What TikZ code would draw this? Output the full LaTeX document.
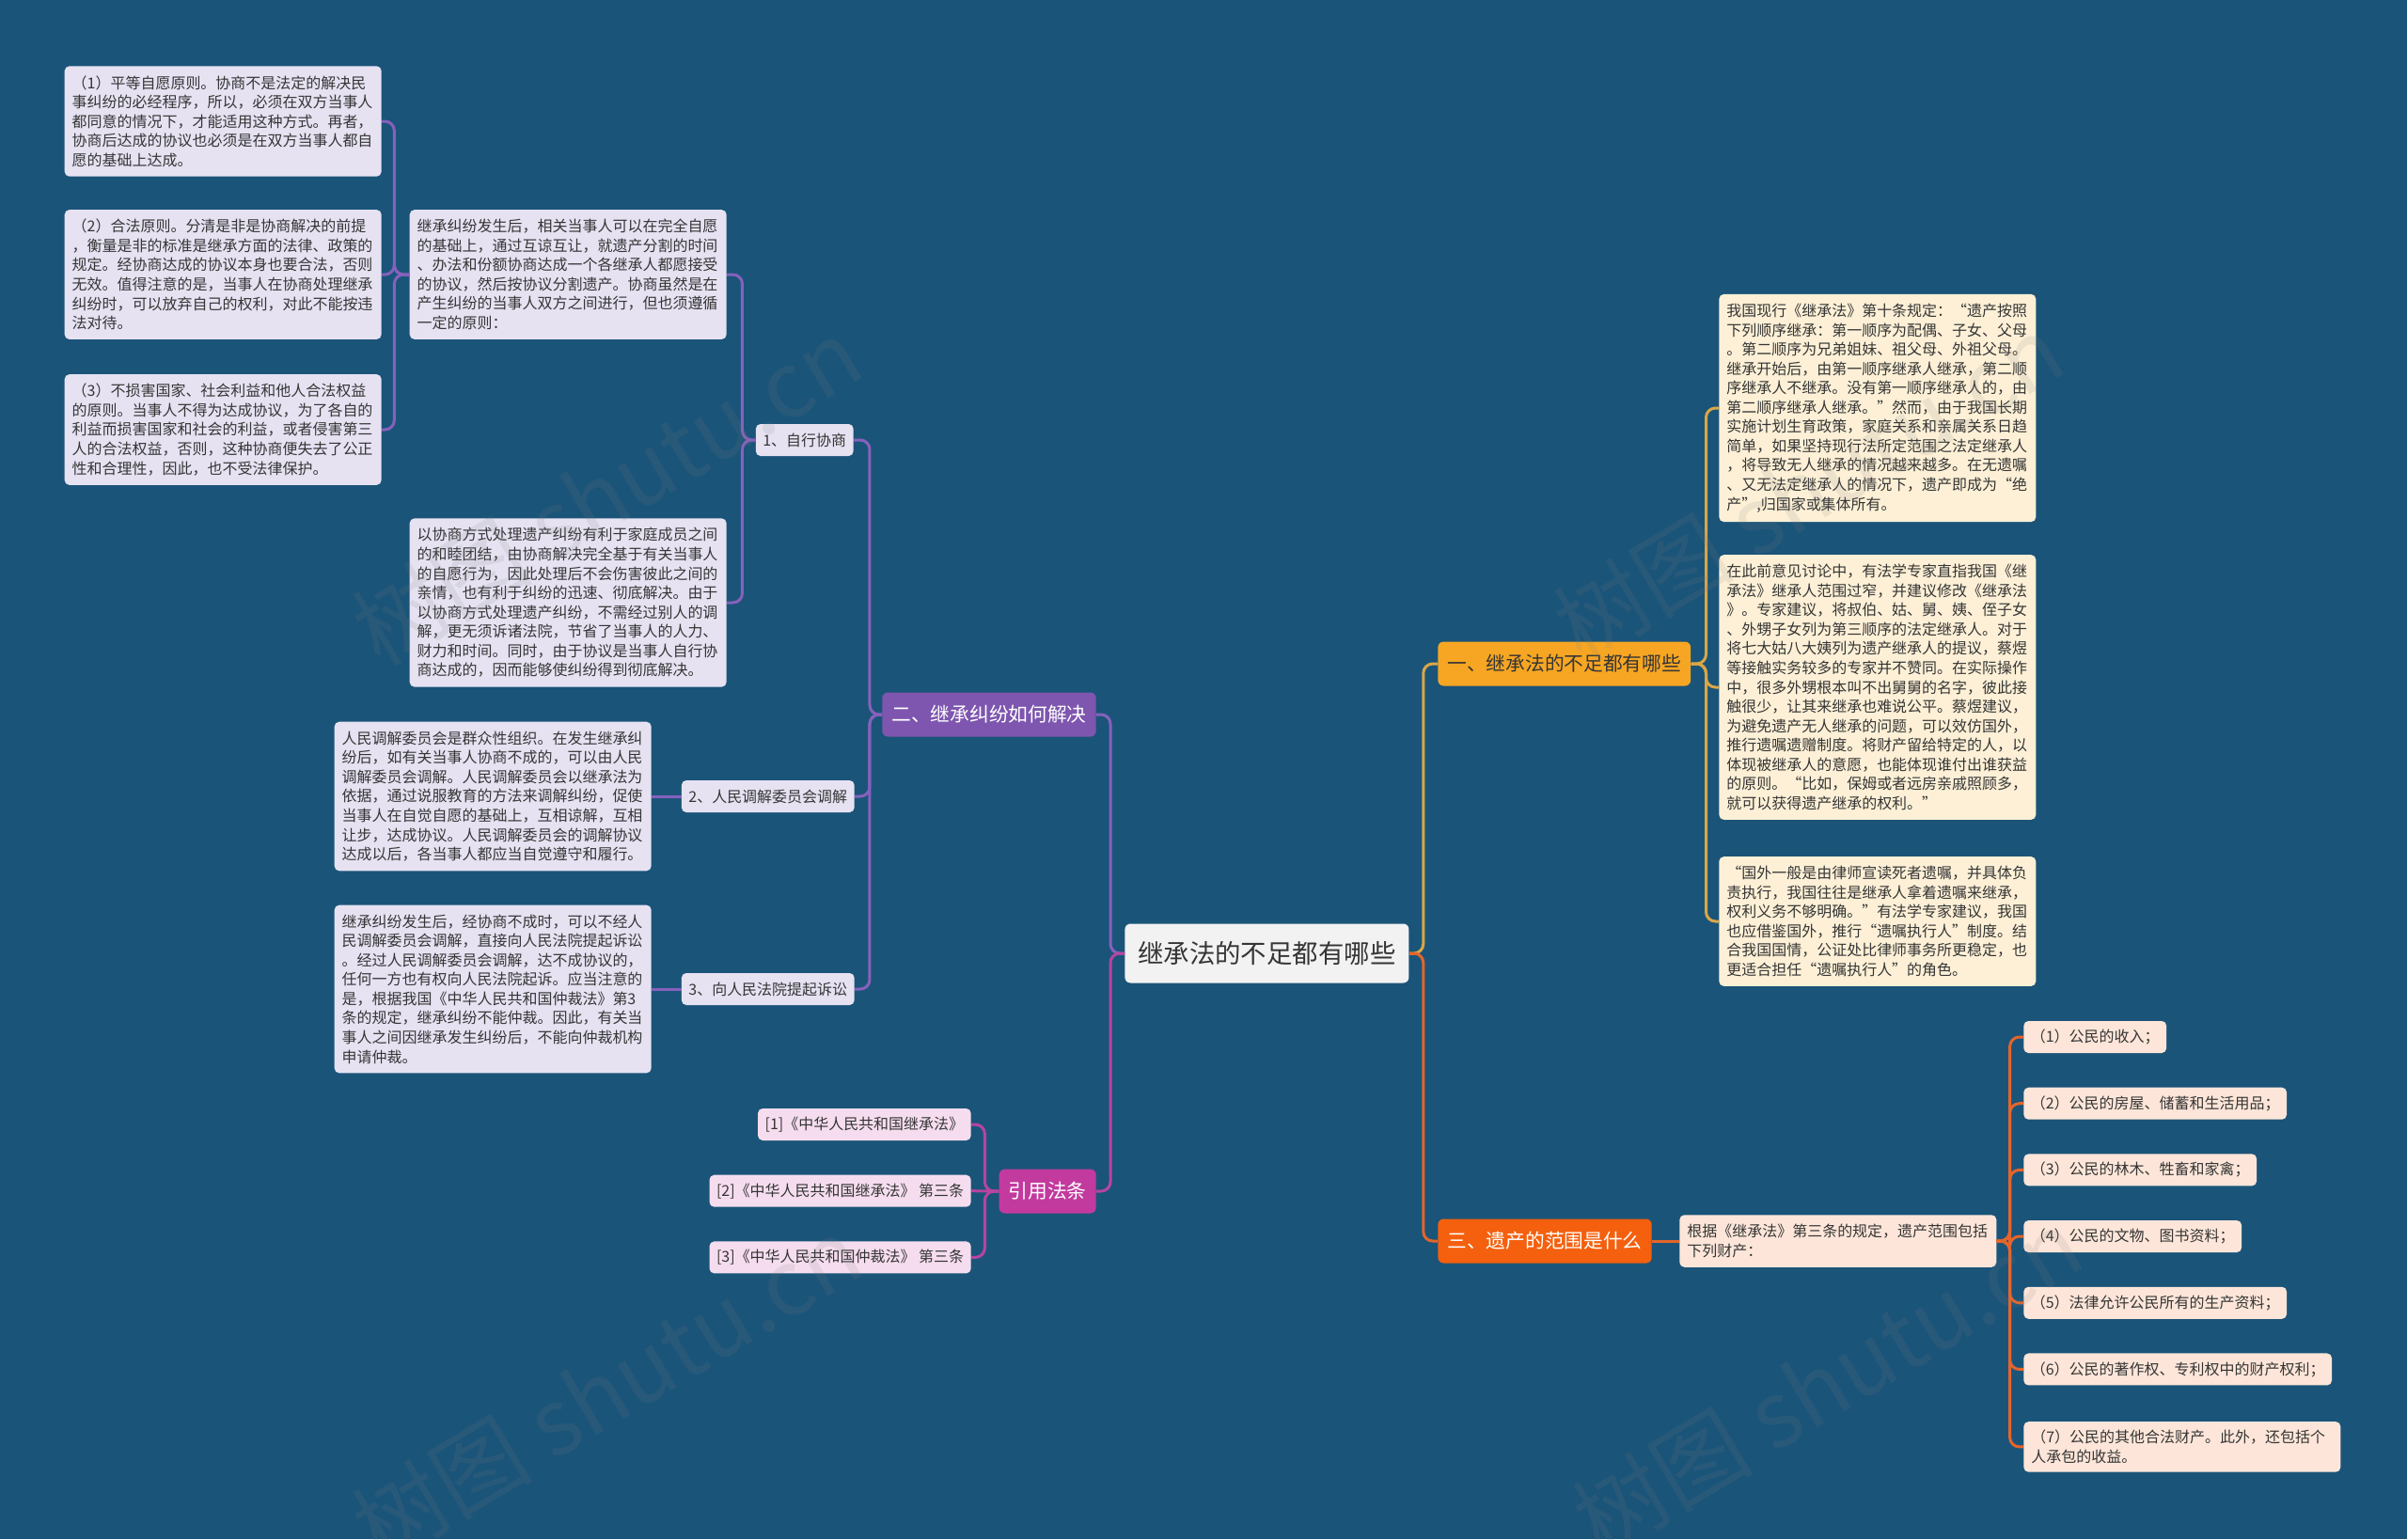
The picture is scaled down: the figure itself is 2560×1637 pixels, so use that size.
\documentclass[tikz,border=0pt]{standalone}
\usepackage{fontspec}
\setmainfont{Noto Sans CJK SC}
\usepackage{xcolor}
\usetikzlibrary{positioning}
\definecolor{canvas}{HTML}{1B5479}
\definecolor{ink}{HTML}{353535}
\definecolor{rootfill}{HTML}{F2F2F2}
\definecolor{amberfill}{HTML}{F7A623}
\definecolor{flamefill}{HTML}{F4600E}
\definecolor{violetfill}{HTML}{7E56AF}
\definecolor{plumfill}{HTML}{C33A9E}
\definecolor{lavender}{HTML}{E6E2F2}
\definecolor{blush}{HTML}{F5DDEF}
\definecolor{cream}{HTML}{FDF0D6}
\definecolor{peach}{HTML}{FDE6D9}
\definecolor{goldline}{HTML}{D9A746}
\definecolor{flameline}{HTML}{E4652B}
\definecolor{violetline}{HTML}{8661BC}
\definecolor{plumline}{HTML}{B8449F}
\tikzset{
  % the central topic
  roottopic/.style={
    fill=rootfill, text=ink, rounded corners=0.12cm, font=\fontsize{15.6}{17}\selectfont,
    inner xsep=0.28cm, inner ysep=0pt, minimum height=1.26cm},
  % a first-level branch
  branch/.style={
    fill=#1, text=white, rounded corners=0.12cm, font=\fontsize{11.8}{13}\selectfont,
    inner xsep=0.2cm, inner ysep=0pt, minimum height=0.94cm},
  % a short label on a lower level
  leaf/.style={
    fill=#1, text=ink, rounded corners=0.1cm, font=\fontsize{9.1}{11.7}\selectfont,
    inner xsep=0.15cm, inner ysep=0pt, minimum height=0.68cm},
  % a box of running text
  para/.style={
    fill=#1, text=ink, rounded corners=0.1cm, font=\fontsize{9.1}{11.7}\selectfont,
    align=left, text width=6.42cm, inner xsep=0.16cm, inner ysep=0.2cm},
  % branch connectors
  link/.style={draw=#1, line width=0.06cm, rounded corners=0.2cm},
  mark wm/.style={text=gray, opacity=0.13, font=\fontsize{55}{60}\selectfont, rotate=31},
}
\begin{document}
\begin{tikzpicture}[x=0.02cm, y=-0.02cm]
\useasboundingbox (0,0) rectangle (2560,1637);
\fill[canvas] (0,0) rectangle (2560,1637);

\node[roottopic, anchor=west] (root) at (1196,1014) {继承法的不足都有哪些};

% first level
\node[branch=amberfill, text=ink, anchor=west] (lack) at (1529,706) {一、继承法的不足都有哪些};
\node[branch=flamefill, anchor=west] (scope) at (1529,1320) {三、遗产的范围是什么};
\node[branch=violetfill, anchor=east] (solve) at (1166,760) {二、继承纠纷如何解决};
\node[branch=plumfill, anchor=east] (cite) at (1166,1267) {引用法条};

% 二 : ways of settling
\node[leaf=lavender, anchor=east] (self) at (908,468) {1、自行协商};
\node[leaf=lavender, anchor=east] (mediate) at (909,847) {2、人民调解委员会调解};
\node[leaf=lavender, anchor=east] (sue) at (909,1052) {3、向人民法院提起诉讼};

\node[para=lavender, anchor=east] (selfintro) at (773,292) {
  继承纠纷发生后，相关当事人可以在完全自愿\\
  的基础上，通过互谅互让，就遗产分割的时间\\
  、办法和份额协商达成一个各继承人都愿接受\\
  的协议，然后按协议分割遗产。协商虽然是在\\
  产生纠纷的当事人双方之间进行，但也须遵循\\
  一定的原则：};
\node[para=lavender, anchor=east] (selfgain) at (773,641) {
  以协商方式处理遗产纠纷有利于家庭成员之间\\
  的和睦团结，由协商解决完全基于有关当事人\\
  的自愿行为，因此处理后不会伤害彼此之间的\\
  亲情，也有利于纠纷的迅速、彻底解决。由于\\
  以协商方式处理遗产纠纷，不需经过别人的调\\
  解，更无须诉诸法院，节省了当事人的人力、\\
  财力和时间。同时，由于协议是当事人自行协\\
  商达成的，因而能够使纠纷得到彻底解决。};

\node[para=lavender, anchor=east] (rule1) at (406,129) {
  （1）平等自愿原则。协商不是法定的解决民\\
  事纠纷的必经程序，所以，必须在双方当事人\\
  都同意的情况下，才能适用这种方式。再者，\\
  协商后达成的协议也必须是在双方当事人都自\\
  愿的基础上达成。};
\node[para=lavender, anchor=east] (rule2) at (406,292) {
  （2）合法原则。分清是非是协商解决的前提\\
  ，衡量是非的标准是继承方面的法律、政策的\\
  规定。经协商达成的协议本身也要合法，否则\\
  无效。值得注意的是，当事人在协商处理继承\\
  纠纷时，可以放弃自己的权利，对此不能按违\\
  法对待。};
\node[para=lavender, anchor=east] (rule3) at (406,457) {
  （3）不损害国家、社会利益和他人合法权益\\
  的原则。当事人不得为达成协议，为了各自的\\
  利益而损害国家和社会的利益，或者侵害第三\\
  人的合法权益，否则，这种协商便失去了公正\\
  性和合理性，因此，也不受法律保护。};

\node[para=lavender, anchor=east] (mediatetext) at (693,847) {
  人民调解委员会是群众性组织。在发生继承纠\\
  纷后，如有关当事人协商不成的，可以由人民\\
  调解委员会调解。人民调解委员会以继承法为\\
  依据，通过说服教育的方法来调解纠纷，促使\\
  当事人在自觉自愿的基础上，互相谅解，互相\\
  让步，达成协议。人民调解委员会的调解协议\\
  达成以后，各当事人都应当自觉遵守和履行。};
\node[para=lavender, anchor=east] (suetext) at (693,1052) {
  继承纠纷发生后，经协商不成时，可以不经人\\
  民调解委员会调解，直接向人民法院提起诉讼\\
  。经过人民调解委员会调解，达不成协议的，\\
  任何一方也有权向人民法院起诉。应当注意的\\
  是，根据我国《中华人民共和国仲裁法》第3\\
  条的规定，继承纠纷不能仲裁。因此，有关当\\
  事人之间因继承发生纠纷后，不能向仲裁机构\\
  申请仲裁。};

% 引用法条
\node[leaf=blush, anchor=east] (law1) at (1033,1196) {[1]《中华人民共和国继承法》};
\node[leaf=blush, below=0.72cm of law1.south east, anchor=north east] (law2) {[2]《中华人民共和国继承法》 第三条};
\node[leaf=blush, below=0.72cm of law2.south east, anchor=north east] (law3) {[3]《中华人民共和国仲裁法》 第三条};

% 一 : what is lacking
\node[para=cream, anchor=west] (order) at (1828,434) {
  我国现行《继承法》第十条规定：“遗产按照\\
  下列顺序继承：第一顺序为配偶、子女、父母\\
  。第二顺序为兄弟姐妹、祖父母、外祖父母。\\
  继承开始后，由第一顺序继承人继承，第二顺\\
  序继承人不继承。没有第一顺序继承人的，由\\
  第二顺序继承人继承。”然而，由于我国长期\\
  实施计划生育政策，家庭关系和亲属关系日趋\\
  简单，如果坚持现行法所定范围之法定继承人\\
  ，将导致无人继承的情况越来越多。在无遗嘱\\
  、又无法定继承人的情况下，遗产即成为“绝\\
  产”,归国家或集体所有。};
\node[para=cream, anchor=west] (narrow) at (1828,731) {
  在此前意见讨论中，有法学专家直指我国《继\\
  承法》继承人范围过窄，并建议修改《继承法\\
  》。专家建议，将叔伯、姑、舅、姨、侄子女\\
  、外甥子女列为第三顺序的法定继承人。对于\\
  将七大姑八大姨列为遗产继承人的提议，蔡煜\\
  等接触实务较多的专家并不赞同。在实际操作\\
  中，很多外甥根本叫不出舅舅的名字，彼此接\\
  触很少，让其来继承也难说公平。蔡煜建议，\\
  为避免遗产无人继承的问题，可以效仿国外，\\
  推行遗嘱遗赠制度。将财产留给特定的人，以\\
  体现被继承人的意愿，也能体现谁付出谁获益\\
  的原则。“比如，保姆或者远房亲戚照顾多，\\
  就可以获得遗产继承的权利。”};
\node[para=cream, anchor=west] (executor) at (1828,980) {
  “国外一般是由律师宣读死者遗嘱，并具体负\\
  责执行，我国往往是继承人拿着遗嘱来继承，\\
  权利义务不够明确。”有法学专家建议，我国\\
  也应借鉴国外，推行“遗嘱执行人”制度。结\\
  合我国国情，公证处比律师事务所更稳定，也\\
  更适合担任“遗嘱执行人”的角色。};

% 三 : scope of the estate
\node[para=peach, anchor=west] (scopeintro) at (1786,1320) {
  根据《继承法》第三条的规定，遗产范围包括\\
  下列财产：};
\node[leaf=peach, anchor=west] (item1) at (2152,1103) {（1）公民的收入；};
\node[leaf=peach, below=0.72cm of item1.south west, anchor=north west] (item2) {（2）公民的房屋、储蓄和生活用品；};
\node[leaf=peach, below=0.72cm of item2.south west, anchor=north west] (item3) {（3）公民的林木、牲畜和家禽；};
\node[leaf=peach, below=0.72cm of item3.south west, anchor=north west] (item4) {（4）公民的文物、图书资料；};
\node[leaf=peach, below=0.72cm of item4.south west, anchor=north west] (item5) {（5）法律允许公民所有的生产资料；};
\node[leaf=peach, below=0.72cm of item5.south west, anchor=north west] (item6) {（6）公民的著作权、专利权中的财产权利；};
\node[para=peach, inner ysep=0.18cm, below=0.76cm of item6.south west, anchor=north west] (item7) {
  （7）公民的其他合法财产。此外，还包括个\\
  人承包的收益。};

% connectors
\draw[link=goldline] (root.east) -- ++(15,0) |- (lack.west);
\draw[link=flameline] (root.east) -- ++(15,0) |- (scope.west);
\draw[link=violetline] (root.west) -- ++(-15,0) |- (solve.east);
\draw[link=plumline] (root.west) -- ++(-15,0) |- (cite.east);

\draw[link=violetline] (solve.west) -- ++(-13,0) |- (self.east);
\draw[link=violetline] (solve.west) -- ++(-13,0) |- (mediate.east);
\draw[link=violetline] (solve.west) -- ++(-13,0) |- (sue.east);
\draw[link=violetline] (self.west) -- ++(-14,0) |- (selfintro.east);
\draw[link=violetline] (self.west) -- ++(-14,0) |- (selfgain.east);
\draw[link=violetline] (selfintro.west) -- ++(-16,0) |- (rule1.east);
\draw[link=violetline] (selfintro.west) -- ++(-16,0) |- (rule2.east);
\draw[link=violetline] (selfintro.west) -- ++(-16,0) |- (rule3.east);
\draw[link=violetline] (mediate.west) -- (mediatetext.east);
\draw[link=violetline] (sue.west) -- (suetext.east);

\draw[link=plumline] (cite.west) -- ++(-15,0) |- (law1.east);
\draw[link=plumline] (cite.west) -- (law2.east);
\draw[link=plumline] (cite.west) -- ++(-15,0) |- (law3.east);

\draw[link=goldline] (lack.east) -- ++(16,0) |- (order.west);
\draw[link=goldline] (lack.east) -- ++(16,0) |- (narrow.west);
\draw[link=goldline] (lack.east) -- ++(16,0) |- (executor.west);

\draw[link=flameline] (scope.east) -- (scopeintro.west);
\draw[link=flameline] (scopeintro.east) -- ++(14,0) |- (item1.west);
\draw[link=flameline] (scopeintro.east) -- ++(14,0) |- (item2.west);
\draw[link=flameline] (scopeintro.east) -- ++(14,0) |- (item3.west);
\draw[link=flameline] (scopeintro.east) -- ++(14,0) |- (item4.west);
\draw[link=flameline] (scopeintro.east) -- ++(14,0) |- (item5.west);
\draw[link=flameline] (scopeintro.east) -- ++(14,0) |- (item6.west);
\draw[link=flameline] (scopeintro.east) -- ++(14,0) |- (item7.west);

% watermarks
\node[mark wm] (wm1) at (645,523) {树图 shutu.cn};
\node[mark wm] (wm2) at (645,1478) {树图 shutu.cn};
\node[mark wm] (wm3) at (1923,519) {树图 shutu.cn};
\node[mark wm] (wm4) at (1943,1470) {树图 shutu.cn};

\end{tikzpicture}
\end{document}
